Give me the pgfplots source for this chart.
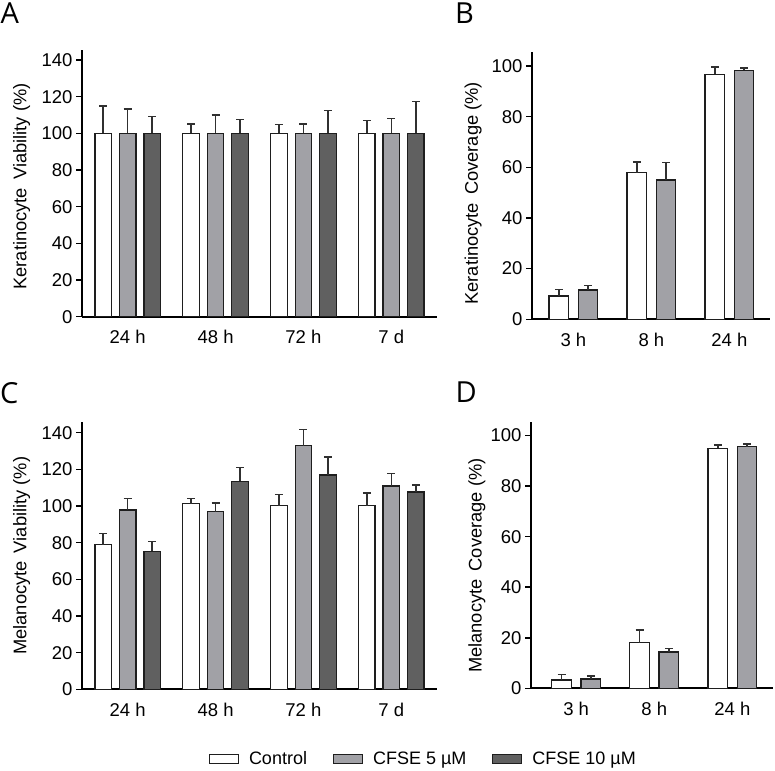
\documentclass[border=0pt]{standalone}
\usepackage{fontspec}
\setmainfont{Liberation Sans}
\newfontfamily\letterfont{Open Sans}
\usepackage{pgfplots}
\usepackage{pgfplotstable}
\pgfplotsset{compat=1.18}
\definecolor{barW}{HTML}{FFFFFF}
\definecolor{barG}{HTML}{A1A1A6}
\definecolor{barD}{HTML}{606060}
\definecolor{edgec}{HTML}{1E1E1E}
\definecolor{errc}{HTML}{303030}

% Panel A: keratinocyte viability
\pgfplotstableread{
x v1 e1 v2 e2 v3 e3
0 100 15.0 100 13.2 100 9.1
1 100 5.1 100 9.9 100 7.7
2 100 4.8 100 5.1 100 12.6
3 100 7.1 100 8.0 100 17.3
}\tabA
% Panel B: keratinocyte coverage
\pgfplotstableread{
x v1 e1 v2 e2
0 9.2 2.6 11.6 1.7
1 57.9 4.2 55.0 6.8
2 96.7 2.9 98.3 0.8
}\tabB
% Panel C: melanocyte viability
\pgfplotstableread{
x v1 e1 v2 e2 v3 e3
0 78.9 6.0 97.8 6.4 75.3 5.4
1 101.3 2.7 96.9 4.7 113.5 7.4
2 100.2 6.0 132.9 8.9 116.9 9.8
3 100.2 6.9 110.9 6.9 107.6 4.0
}\tabC
% Panel D: melanocyte coverage
\pgfplotstableread{
x v1 e1 v2 e2
0 3.3 2.2 3.7 1.2
1 18.1 5.0 14.4 1.4
2 95.0 1.3 95.6 1.0
}\tabD

\pgfplotsset{
  panel/.style={
    scale only axis,
    anchor=south west,
    axis x line*=bottom,
    axis y line*=left,
    axis line style={line width=1.7pt, black},
    ymin=0,
    major x tick style={draw=none},
    ytick style={line width=1.5pt, black},
    major tick length=6pt,
    tick align=outside,
    tick label style={font=\fontsize{18.5}{20}\selectfont},
    xticklabel style={yshift=-4pt},
    /pgf/number format/assume math mode=true,
    ylabel style={font=\fontsize{18.3}{20}\selectfont, anchor=center},
    ybar,
    every axis plot/.append style={draw=edgec, line width=1.2pt},
    error bars/y dir=plus,
    error bars/y explicit,
    error bars/error bar style={line width=1.5pt, errc},
    error bars/error mark options={rotate=90, line width=1.5pt, errc, mark size=4pt},
    legend image code/.code={\draw[#1,/tikz/.cd,line width=1pt] (0pt,-4.2pt) rectangle (29pt,4.2pt);},
  },
}

\begin{document}
\begin{tikzpicture}[x=1pt,y=1pt]
\path[use as bounding box] (0pt,0pt) rectangle (775pt,770pt);

% ---------- A ----------
\begin{axis}[panel,
  at={(82pt,453.3pt)}, width=355pt, height=266.7pt,
  xmin=-0.52, xmax=3.52, ymax=145.5,
  ytick={0,20,...,140},
  xtick={0,1,2,3}, xticklabels={24 h,48 h,72 h,7 d},
  bar width=16.5pt,
  ylabel={Keratinocyte\, Viability (\%)},
  ylabel style={at={(axis description cs:-0.170,0.488)}},
]
\addplot[fill=barW, bar shift=-24.5pt] table[x=x,y=v1,y error=e1]{\tabA};
\addplot[fill=barG, bar shift=0pt] table[x=x,y=v2,y error=e2]{\tabA};
\addplot[fill=barD, bar shift=24.5pt] table[x=x,y=v3,y error=e3]{\tabA};
\end{axis}

% ---------- B ----------
\begin{axis}[panel,
  at={(532pt,450.7pt)}, width=238pt, height=267pt,
  xmin=-0.53, xmax=2.52, ymax=105.4,
  ytick={0,20,...,100},
  xtick={0,1,2}, xticklabels={3 h,8 h,24 h},
  bar width=19.7pt,
  ylabel={Keratinocyte\, Coverage (\%)},
  ylabel style={at={(axis description cs:-0.247,0.472)}},
]
\addplot[fill=barW, bar shift=-14.6pt] table[x=x,y=v1,y error=e1]{\tabB};
\addplot[fill=barG, bar shift=14.6pt] table[x=x,y=v2,y error=e2]{\tabB};
\end{axis}

% ---------- C ----------
\begin{axis}[panel,
  at={(82pt,80.7pt)}, width=355pt, height=267.6pt,
  xmin=-0.52, xmax=3.52, ymax=146,
  ytick={0,20,...,140},
  xtick={0,1,2,3}, xticklabels={24 h,48 h,72 h,7 d},
  bar width=16.5pt,
  ylabel={Melanocyte\, Viability (\%)},
  ylabel style={at={(axis description cs:-0.170,0.499)}},
  legend columns=3,
  legend style={at={(axis description cs:0.9617,-0.2605)}, anchor=center,
    draw=none, fill=none, font=\fontsize{18}{20}\selectfont,
    /tikz/every odd column/.append style={column sep=8pt},
    /tikz/every even column/.append style={column sep=24pt}},
]
\addplot[fill=barW, bar shift=-24.5pt] table[x=x,y=v1,y error=e1]{\tabC};
\addlegendentry{Control}
\addplot[fill=barG, bar shift=0pt] table[x=x,y=v2,y error=e2]{\tabC};
\addlegendentry{CFSE 5 µM}
\addplot[fill=barD, bar shift=24.5pt] table[x=x,y=v3,y error=e3]{\tabC};
\addlegendentry{CFSE 10 µM}
\end{axis}

% ---------- D ----------
\begin{axis}[panel,
  at={(531pt,81.7pt)}, width=242pt, height=266.6pt,
  xmin=-0.578, xmax=2.52, ymax=105.5,
  ytick={0,20,...,100},
  xtick={0,1,2}, xticklabels={3 h,8 h,24 h},
  bar width=19.7pt,
  ylabel={Melanocyte\, Coverage (\%)},
  ylabel style={at={(axis description cs:-0.224,0.46)}},
]
\addplot[fill=barW, bar shift=-14.6pt] table[x=x,y=v1,y error=e1]{\tabD};
\addplot[fill=barG, bar shift=14.6pt] table[x=x,y=v2,y error=e2]{\tabD};
\end{axis}

% panel letters
\node[anchor=base west, inner sep=0pt, font=\letterfont\fontsize{29}{30}\selectfont] at (0.5pt,746.7pt) {A};
\node[anchor=base west, inner sep=0pt, font=\letterfont\fontsize{29}{30}\selectfont] at (455pt,746.7pt) {B};
\node[anchor=base west, inner sep=0pt, font=\letterfont\fontsize{29}{30}\selectfont] at (0pt,366.7pt) {C};
\node[anchor=base west, inner sep=0pt, font=\letterfont\fontsize{29}{30}\selectfont] at (455.5pt,367pt) {D};
\end{tikzpicture}
\end{document}
